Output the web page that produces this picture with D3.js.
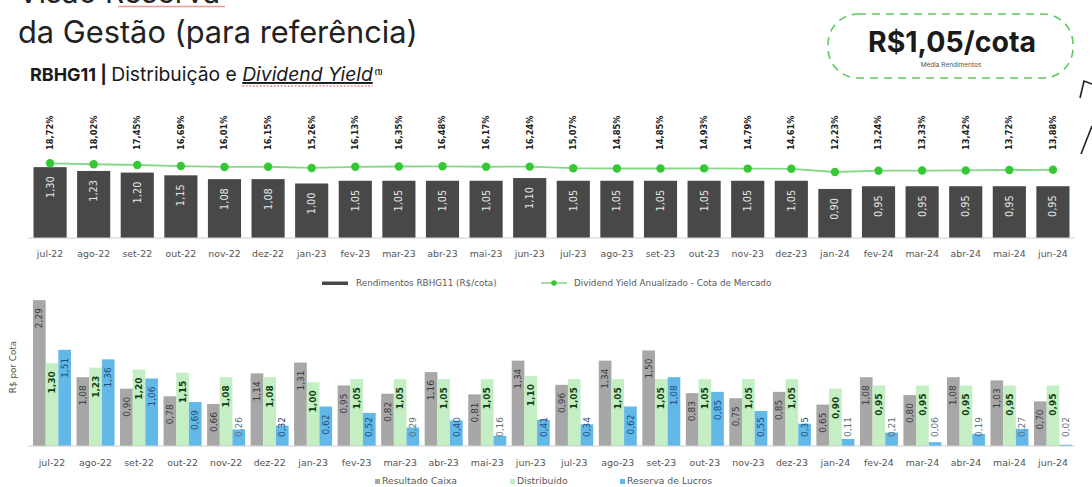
<!DOCTYPE html>
<html>
<head>
<meta charset="utf-8">
<script src="https://cdn.jsdelivr.net/npm/d3@7"></script>
<style>
  html, body { margin: 0; padding: 0; background: #fff; }
  svg { display: block; }
</style>
</head>
<body>
<svg id="chart" width="1092" height="487"></svg>
<script>
const months = ["jul-22","ago-22","set-22","out-22","nov-22","dez-22","jan-23","fev-23","mar-23","abr-23","mai-23","jun-23","jul-23","ago-23","set-23","out-23","nov-23","dez-23","jan-24","fev-24","mar-24","abr-24","mai-24","jun-24"];
const rendimentos = [1.30,1.23,1.20,1.15,1.08,1.08,1.00,1.05,1.05,1.05,1.05,1.10,1.05,1.05,1.05,1.05,1.05,1.05,0.90,0.95,0.95,0.95,0.95,0.95];
const dividendYield = [18.72,18.02,17.45,16.69,16.01,16.15,15.26,16.13,16.35,16.48,16.17,16.24,15.07,14.85,14.85,14.93,14.79,14.61,12.23,13.24,13.33,13.42,13.72,13.88];
const resultadoCaixa = [2.29,1.08,0.90,0.78,0.66,1.14,1.31,0.95,0.82,1.16,0.81,1.34,0.96,1.34,1.50,0.83,0.75,0.85,0.65,1.08,0.80,1.08,1.03,0.70];
const distribuido = [1.30,1.23,1.20,1.15,1.08,1.08,1.00,1.05,1.05,1.05,1.05,1.10,1.05,1.05,1.05,1.05,1.05,1.05,0.90,0.95,0.95,0.95,0.95,0.95];
const reservaLucros = [1.51,1.36,1.06,0.69,0.26,0.32,0.62,0.52,0.29,0.40,0.16,0.41,0.34,0.62,1.08,0.85,0.55,0.35,0.11,0.21,0.06,0.19,0.27,0.02];
const topLegend = ["Rendimentos RBHG11 (R$/cota)", "Dividend Yield Anualizado - Cota de Mercado"];
const bottomSeries = ["Resultado Caixa", "Distribuído", "Reserva de Lucros"];

const svg = d3.select("#chart");
const fmt = v => d3.format(".2f")(v).replace(".", ",");
const AX = "DejaVu Sans, sans-serif";
const TF = "Inter, 'Noto Sans', sans-serif";

// ---------- Header ----------
const cut = svg.append("text").attr("x", 18).attr("y", 3).attr("font-family", TF)
  .attr("font-size", 30).attr("fill", "#222");
cut.append("tspan").text("Visão ");
cut.append("tspan").text("Reserva");
svg.append("line").attr("x1", 118).attr("x2", 225).attr("y1", 6.5).attr("y2", 6.5)
  .attr("stroke", "#e99").attr("stroke-width", 1.5);

const title = svg.append("text").attr("x", 18).attr("y", 43)
  .attr("font-family", TF).attr("font-size", 30).attr("fill", "#222")
  .text("da Gestão (para referência)");
const tw = title.node().getComputedTextLength();
title.attr("font-size", 30 * 400 / tw);

// subtitle, scaled to the reference width
const subParts = [
  { t: "RBHG11 | ", w: 700, s: "normal", rel: 0.93 },
  { t: "Distribuição e ", w: 400, s: "normal", rel: 1 },
  { t: "Dividend Yield", w: 400, s: "italic", rel: 1 }
];
function drawSub(fs) {
  const g = svg.append("text").attr("x", 30).attr("y", 81).attr("font-family", TF)
    .attr("font-size", fs).attr("fill", "#1a1a1a");
  const spans = subParts.map(p => g.append("tspan").attr("font-weight", p.w)
    .attr("font-style", p.s).attr("font-size", fs * p.rel).text(p.t));
  return { g, spans };
}
let probe = drawSub(15);
const sw = probe.g.node().getComputedTextLength();
probe.g.remove();
const subFs = 15 * 343 / sw;
const sub = drawSub(subFs);
sub.spans[2].attr("text-decoration", "underline");
sub.g.append("tspan").attr("font-size", 7).attr("dy", -6).attr("font-weight", 700).text(" (1)");
// spell-check squiggle under "Dividend Yield"
const pre = sub.spans[0].node().getComputedTextLength() + sub.spans[1].node().getComputedTextLength();
const dyw = sub.spans[2].node().getComputedTextLength();
svg.append("line").attr("x1", 30 + pre).attr("x2", 30 + pre + dyw).attr("y1", 86).attr("y2", 86)
  .attr("stroke", "#e05a5a").attr("stroke-width", 1.2).attr("stroke-dasharray", "2,1.5");

// callout box
svg.append("rect").attr("x", 828).attr("y", 14).attr("width", 245).attr("height", 64)
  .attr("rx", 30).attr("ry", 30).attr("fill", "none")
  .attr("stroke", "#5fcb5f").attr("stroke-width", 1.6).attr("stroke-dasharray", "8,6");
const big = svg.append("text").attr("x", 952).attr("y", 52).attr("text-anchor", "middle")
  .attr("font-family", TF).attr("font-weight", 700).attr("font-size", 28).attr("fill", "#1a1a1a")
  .text("R$1,05/cota");
const bw = big.node().getComputedTextLength();
big.attr("font-size", 28 * 168 / bw);
svg.append("text").attr("x", 951).attr("y", 67).attr("text-anchor", "middle")
  .attr("font-family", TF).attr("font-size", 6.5).attr("fill", "#555")
  .text("Média Rendimentos");

// arrow strokes at right edge
svg.append("path").attr("d", "M1080,98 L1084,81 L1092,84").attr("fill", "none")
  .attr("stroke", "#222").attr("stroke-width", 1.6);
svg.append("path").attr("d", "M1081,154 L1092,126").attr("fill", "none")
  .attr("stroke", "#222").attr("stroke-width", 1.6);

// ---------- Top chart ----------
const xTop = d3.scaleBand().domain(months).range([33.5, 1069.5]).paddingInner(0.24).paddingOuter(0);
const yTop = d3.scaleLinear().domain([0, 1.4]).range([238, 238 - 1.4 * 54.5]);
const yDY = d3.scaleLinear().domain([0, 20]).range([188.4, 161.6]);

const gTop = svg.append("g");
gTop.selectAll("rect.bar").data(months).join("rect").attr("class", "bar")
  .attr("x", d => xTop(d)).attr("width", xTop.bandwidth())
  .attr("y", (d, i) => yTop(rendimentos[i])).attr("height", (d, i) => yTop(0) - yTop(rendimentos[i]))
  .attr("fill", "#484848");

gTop.selectAll("text.bl").data(months).join("text").attr("class", "bl")
  .attr("transform", (d, i) => `translate(${xTop(d) + xTop.bandwidth() / 2},${yTop(rendimentos[i]) + 9}) rotate(-90)`)
  .attr("text-anchor", "end").attr("dy", "0.35em")
  .attr("font-family", AX).attr("font-size", 9.8).attr("fill", "#e6e6e6")
  .text((d, i) => fmt(rendimentos[i]));

const axTop = gTop.append("g").attr("transform", "translate(0,238)")
  .call(d3.axisBottom(xTop).tickSize(0).tickPadding(12));
axTop.select(".domain").attr("stroke", "#d0d0d0").attr("d", "M28,0H1075");
axTop.selectAll("text").attr("font-family", AX).attr("font-size", 9.4).attr("fill", "#555");

const line = d3.line().x(d => xTop(d) + xTop.bandwidth() / 2).y((d, i) => yDY(dividendYield[i]));
gTop.append("path").datum(months).attr("d", line).attr("fill", "none")
  .attr("stroke", "#86d886").attr("stroke-width", 1.8);
gTop.selectAll("circle").data(months).join("circle")
  .attr("cx", d => xTop(d) + xTop.bandwidth() / 2).attr("cy", (d, i) => yDY(dividendYield[i]))
  .attr("r", 4.2).attr("fill", "#35c835");
gTop.selectAll("text.dy").data(months).join("text").attr("class", "dy")
  .attr("transform", d => `translate(${xTop(d) + xTop.bandwidth() / 2},150) rotate(-90)`)
  .attr("text-anchor", "start").attr("dy", "0.35em")
  .attr("font-family", AX).attr("font-weight", 700).attr("font-size", 8.3).attr("fill", "#222")
  .text((d, i) => d3.format(".2f")(dividendYield[i]).replace(".", ",") + "%");

// top legend
const lg = svg.append("g").attr("font-family", AX).attr("font-size", 8.8).attr("fill", "#595959");
lg.append("rect").attr("x", 322).attr("y", 281.5).attr("width", 26).attr("height", 3.5).attr("fill", "#484848");
lg.append("text").attr("x", 356).attr("y", 286).text(topLegend[0]);
lg.append("line").attr("x1", 541).attr("x2", 567).attr("y1", 283).attr("y2", 283).attr("stroke", "#86d886").attr("stroke-width", 1.6);
lg.append("circle").attr("cx", 554).attr("cy", 283).attr("r", 2.8).attr("fill", "#35c835");
lg.append("text").attr("x", 574).attr("y", 286).text(topLegend[1]);

// ---------- Bottom chart ----------
const base = 446;
const xBot = d3.scaleBand().domain(months).range([33, 1072]).paddingInner(0.127).paddingOuter(0);
const xSub = d3.scaleBand().domain(bottomSeries).range([0, xBot.bandwidth()]).padding(0);
const yBot = d3.scaleLinear().domain([0, 2.4]).range([base, base - 2.4 * 63.7]);
const colors = ["#a7a7a7", "#c4efc4", "#62b8e6"];
const labelColors = ["#3a3a3a", "#123d12", "#1d4d7c"];
const seriesVals = [resultadoCaixa, distribuido, reservaLucros];

const gBot = svg.append("g");
const flat = [];
months.forEach((m, i) => bottomSeries.forEach((s, k) => flat.push({ m, s, k, v: seriesVals[k][i] })));

gBot.selectAll("rect").data(flat).join("rect")
  .attr("x", d => xBot(d.m) + xSub(d.s)).attr("width", xSub.bandwidth())
  .attr("y", d => yBot(d.v)).attr("height", d => base - yBot(d.v))
  .attr("fill", d => colors[d.k]);

gBot.selectAll("text.vl").data(flat).join("text").attr("class", "vl")
  .attr("font-family", AX).attr("font-size", 9)
  .attr("font-weight", d => d.k === 1 ? 700 : 400)
  .attr("text-anchor", "start").attr("dy", "0.35em")
  .text(d => fmt(d.v))
  .each(function (d) {
    const len = this.getComputedTextLength();
    const top = yBot(d.v);
    const yb = Math.min(top + 8 + len, base - 9);
    const cx = xBot(d.m) + xSub(d.s) + xSub.bandwidth() / 2;
    d3.select(this).attr("transform", `translate(${cx},${yb}) rotate(-90)`)
      .attr("fill", (yb - len * 0.5 < top) ? "#5f6f7c" : labelColors[d.k]);
  });

const axBot = gBot.append("g").attr("transform", `translate(0,${base})`)
  .call(d3.axisBottom(xBot).tickSize(0).tickPadding(13));
axBot.select(".domain").attr("stroke", "#d0d0d0").attr("d", "M28,0H1075");
axBot.selectAll("text").attr("font-family", AX).attr("font-size", 9.4).attr("fill", "#555");

svg.append("text").attr("transform", "translate(16,367) rotate(-90)").attr("text-anchor", "middle")
  .attr("font-family", AX).attr("font-size", 8.8).attr("fill", "#555").text("R$ por Cota");

// bottom legend
const lb = svg.append("g").attr("font-family", AX).attr("font-size", 9.3).attr("fill", "#595959");
const legX = [375, 510, 620];
bottomSeries.forEach((s, k) => {
  lb.append("rect").attr("x", legX[k]).attr("y", 479).attr("width", 5).attr("height", 5).attr("fill", colors[k]);
  lb.append("text").attr("x", legX[k] + 7).attr("y", 484).text(s);
});
</script>
</body>
</html>
